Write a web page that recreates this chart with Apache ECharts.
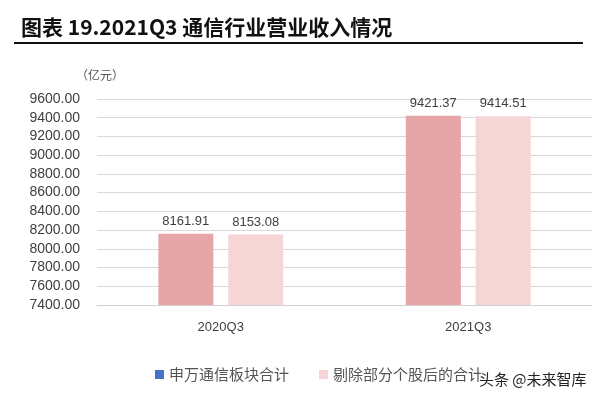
<!DOCTYPE html>
<html>
<head>
<meta charset="utf-8">
<script src="https://cdn.jsdelivr.net/npm/echarts@6/dist/echarts.min.js"></script>
<style>
  html, body { margin: 0; padding: 0; background: #fff; }
  #chart { width: 600px; height: 399px; }
</style>
</head>
<body>
<div id="chart"></div>
<script>
const categories = ["2020Q3", "2021Q3"];
const seriesNames = ["申万通信板块合计", "剔除部分个股后的合计"];
const swTotal = [8161.91, 9421.37];
const exclTotal = [8153.08, 9414.51];

const chart = echarts.init(document.getElementById("chart"));

const labelStyle = {
  show: true,
  position: "top",
  distance: 6,
  color: "#404040",
  fontSize: 13,
  fontFamily: "Liberation Sans",
  formatter: (p) => p.value.toFixed(2),
};

chart.setOption({
  animation: false,
  backgroundColor: "#fff",
  title: {
    text: "图表 19.2021Q3 通信行业营业收入情况",
    left: 16,
    top: 12,
    textStyle: {
      color: "#111",
      fontSize: 21,
      fontWeight: "bold",
      fontFamily: "Noto Sans CJK SC",
    },
  },
  graphic: [
    {
      type: "line",
      shape: { x1: 14, y1: 43, x2: 583, y2: 43 },
      style: { stroke: "#111", lineWidth: 2 },
    },
    {
      type: "text",
      left: 76,
      top: 69,
      style: {
        text: "（亿元）",
        fill: "#555",
        fontSize: 12,
        fontFamily: "Noto Sans CJK SC",
      },
    },
    {
      type: "text",
      left: 478,
      top: 371,
      z: 100,
      style: {
        text: "头条 @未来智库",
        fill: "#222",
        fontSize: 15,
        fontFamily: "Noto Sans CJK SC",
        stroke: "#fff",
        lineWidth: 2,
      },
    },
  ],
  legend: {
    bottom: 12,
    left: 150,
    itemWidth: 9,
    itemHeight: 9,
    itemGap: 30,
    icon: "rect",
    textStyle: {
      color: "#555",
      fontSize: 15,
      fontFamily: "Noto Sans CJK SC",
    },
    data: [
      { name: seriesNames[0], itemStyle: { color: "#4472c4" } },
      { name: seriesNames[1], itemStyle: { color: "#f5d5d6" } },
    ],
  },
  grid: {
    top: 99,
    left: 97,
    right: 8,
    bottom: 94,
    containLabel: false,
  },
  xAxis: {
    type: "category",
    data: categories,
    axisLine: { lineStyle: { color: "#d0d0d0" } },
    axisTick: { show: false },
    axisLabel: {
      color: "#404040",
      fontSize: 13,
      margin: 16,
      fontFamily: "Liberation Sans",
    },
  },
  yAxis: {
    type: "value",
    min: 7400,
    max: 9600,
    interval: 200,
    axisLine: { show: false },
    axisTick: { show: false },
    splitLine: { lineStyle: { color: "#d9d9d9" } },
    axisLabel: {
      color: "#404040",
      fontSize: 14,
      margin: 17,
      fontFamily: "Liberation Sans",
      formatter: (v) => v.toFixed(2),
    },
  },
  series: [
    {
      name: seriesNames[0],
      type: "bar",
      data: swTotal,
      barWidth: 55,
      barGap: "27%",
      itemStyle: { color: "#e6a5a7" },
      label: labelStyle,
    },
    {
      name: seriesNames[1],
      type: "bar",
      data: exclTotal,
      barWidth: 55,
      itemStyle: { color: "#f5d5d6" },
      label: labelStyle,
    },
  ],
});
</script>
</body>
</html>
